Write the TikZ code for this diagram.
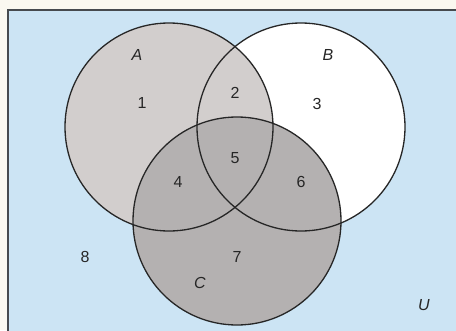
\documentclass[tikz,border=0pt]{standalone}
\usepackage{fontspec}
\setmainfont{Liberation Sans}
\usepackage{xcolor}
\definecolor{paperCream}{RGB}{250,248,240}
\definecolor{universeBlue}{RGB}{204,228,244}
\definecolor{setAGray}{RGB}{210,206,205}
\definecolor{setCGray}{RGB}{180,177,177}
\definecolor{frameGray}{RGB}{70,74,78}
\usepackage{tikz}
\usetikzlibrary{positioning}
\tikzstyle{setline}=[draw=black!85, line width=1.3pt]
\tikzstyle{setname}=[font=\fontsize{16}{18}\selectfont\itshape, text=black!85]
\tikzstyle{regionnum}=[font=\fontsize{16}{18}\selectfont, text=black!85]

\begin{document}
\begin{tikzpicture}[x=1pt,y=-1pt]
    \useasboundingbox (0,0) rectangle (456,330);
    \fill[paperCream] (0,0) rectangle (456,330);

    % Universo
    \fill[universeBlue] (8,10) rectangle (460,334);
    \draw[frameGray, line width=2pt] (460,10) -- (8,10) -- (8,334);

    % Centros
    \coordinate (cA) at (169,127);
    \coordinate (cB) at (301,127);
    \coordinate (cC) at (237,221);

    % Preenchimentos
    \fill[white]    (cB) circle (104);
    \fill[setAGray] (cA) circle (104);
    \fill[setCGray] (cC) circle (104);

    % Contornos
    \draw[setline] (cA) circle (104);
    \draw[setline] (cB) circle (104);
    \draw[setline] (cC) circle (104);

    % Nomes dos conjuntos
    \node[setname] (nA) at (137,55)  {A};
    \node[setname] (nB) at (328,55)  {B};
    \node[setname] (nC) at (200,283) {C};
    \node[setname] (nU) at (424,305) {U};

    % Regiões
    \node[regionnum] (r1) at (142,103) {1};
    \node[regionnum] (r2) at (235,93)  {2};
    \node[regionnum] (r3) at (317,104) {3};
    \node[regionnum] (r4) at (178,182) {4};
    \node[regionnum] (r5) at (235,158) {5};
    \node[regionnum] (r6) at (301,182) {6};
    \node[regionnum] (r7) at (237,257) {7};
    \node[regionnum] (r8) at (85,257)  {8};
\end{tikzpicture}
\end{document}
